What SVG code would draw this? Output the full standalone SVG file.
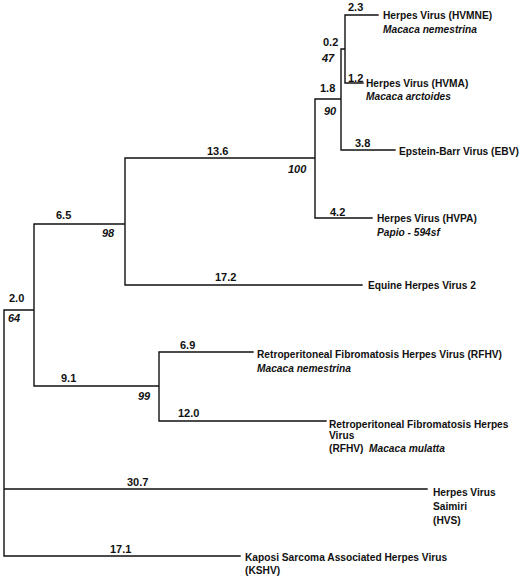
<svg xmlns="http://www.w3.org/2000/svg" width="520" height="577" viewBox="0 0 520 577">
<style>
.e{stroke:#111;stroke-width:1.4;fill:none;stroke-linecap:square}
.n{font-family:"Liberation Sans",Arial,sans-serif;font-size:11px;font-weight:bold;fill:#111}
.b{font-family:"Liberation Sans",Arial,sans-serif;font-size:11px;font-weight:bold;font-style:italic;fill:#111}
.l{font-family:"Liberation Sans",Arial,sans-serif;font-size:10.2px;font-weight:bold;fill:#111}
.s{font-family:"Liberation Sans",Arial,sans-serif;font-size:10.2px;font-weight:bold;font-style:italic;fill:#111}
</style>
<rect width="520" height="577" fill="#fff"/>
<g id="connectors">
<path class="e" d="M4,310V556M4,310H34M34,224V386M34,224H125M125,158V285M125,158H315M315,99V218M315,99H341M341,49V150M341,49H345M345,15V83M345,15H378M345,83H363M341,150H395M315,218H372M125,285H362M34,386H159M159,352V421M159,352H253M159,421H326M4,489H427M4,556H240"/>
</g>
<g id="branch-labels">
<text class="n" x="348" y="11">2.3</text>
<text class="n" x="323" y="46">0.2</text>
<text class="b" x="322" y="62">47</text>
<text class="n" x="348" y="82">1.2</text>
<text class="n" x="320" y="92">1.8</text>
<text class="b" x="324" y="115">90</text>
<text class="n" x="355" y="147">3.8</text>
<text class="n" x="207" y="155">13.6</text>
<text class="b" x="288" y="173">100</text>
<text class="n" x="330" y="216">4.2</text>
<text class="n" x="56" y="219">6.5</text>
<text class="b" x="102" y="237">98</text>
<text class="n" x="215" y="281">17.2</text>
<text class="n" x="9" y="302">2.0</text>
<text class="b" x="8" y="322">64</text>
<text class="n" x="180" y="349">6.9</text>
<text class="n" x="61" y="382">9.1</text>
<text class="b" x="138" y="400">99</text>
<text class="n" x="178" y="417">12.0</text>
<text class="n" x="127" y="486">30.7</text>
<text class="n" x="110" y="553">17.1</text>
</g>
<g id="hvmne"><text class="l" x="383" y="19">Herpes Virus (HVMNE)</text><text class="s" x="383" y="33">Macaca nemestrina</text></g>
<g id="hvma"><text class="l" x="366" y="87">Herpes Virus (HVMA)</text><text class="s" x="366" y="100">Macaca arctoides</text></g>
<g id="ebv"><text class="l" x="399" y="155">Epstein-Barr Virus (EBV)</text></g>
<g id="hvpa"><text class="l" x="377" y="222">Herpes Virus (HVPA)</text><text class="s" x="377" y="236">Papio - 594sf</text></g>
<g id="equine"><text class="l" x="368" y="289">Equine Herpes Virus 2</text></g>
<g id="rfhv-nem"><text class="l" x="257" y="358">Retroperitoneal Fibromatosis Herpes Virus (RFHV)</text><text class="s" x="257" y="372">Macaca nemestrina</text></g>
<g id="rfhv-mul"><text class="l" x="329" y="428">Retroperitoneal Fibromatosis Herpes</text><text class="l" x="329" y="439">Virus</text><text class="l" x="329" y="452">(RFHV)</text><text class="s" x="369" y="452">Macaca mulatta</text></g>
<g id="hvs"><text class="l" x="433" y="496">Herpes Virus</text><text class="l" x="433" y="510">Saimiri</text><text class="l" x="433" y="524">(HVS)</text></g>
<g id="kshv"><text class="l" x="245" y="561">Kaposi Sarcoma Associated Herpes Virus</text><text class="l" x="245" y="574">(KSHV)</text></g>
</svg>
